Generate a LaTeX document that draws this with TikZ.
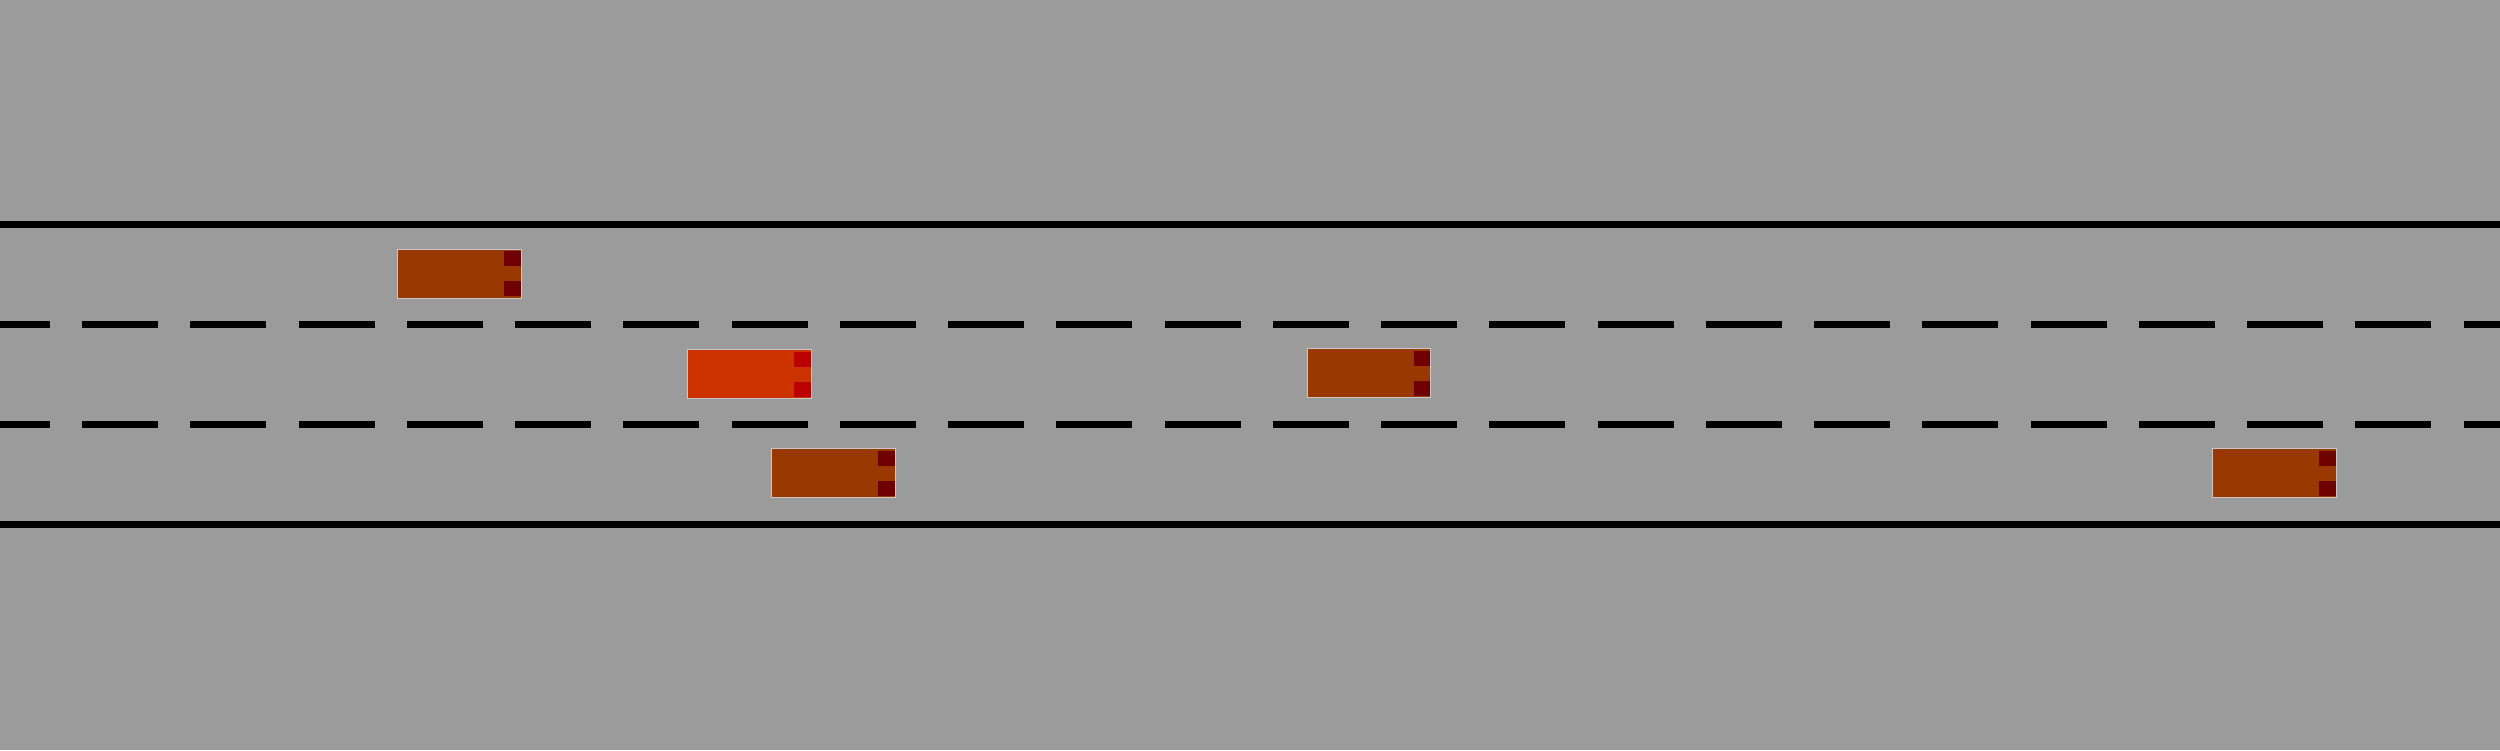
\documentclass[tikz,border=0pt]{standalone}
\usepackage{tikz}
\usepackage{xcolor}
\definecolor{asphalt}{HTML}{9B9B9B}
\definecolor{carbody}{HTML}{993800}
\definecolor{carlight}{HTML}{6E0000}
\definecolor{egobody}{HTML}{CC3300}
\definecolor{egolight}{HTML}{BB0000}
\definecolor{caredge}{HTML}{C8C8C8}
\tikzset{
  roadline/.style={line width=0.07cm, black},
  laneline/.style={roadline, dash pattern=on 0.76cm off 0.3224cm},
}
% car: centre x, centre y, body colour, light colour
\newcommand{\roadcar}[4]{%
  \fill[#3] (#1-0.617,#2-0.245) rectangle (#1+0.617,#2+0.245);
  \fill[#4] (#1+0.447,#2+0.225) rectangle (#1+0.617,#2+0.075);
  \fill[#4] (#1+0.447,#2-0.225) rectangle (#1+0.617,#2-0.075);
  \draw[caredge, line width=0.01cm] (#1-0.617,#2-0.245) rectangle (#1+0.617,#2+0.245);
}

\begin{document}
\begin{tikzpicture}
            \useasboundingbox (0,0) rectangle (25,7.5);
            \clip (0,0) rectangle (25,7.5);
            \fill[asphalt] (0,0) rectangle (25,7.5);
            \draw[roadline] (0,5.255) -- (25,5.255);
            \draw[roadline] (0,2.255) -- (25,2.255);
            \draw[laneline] (-0.26,4.255) -- (25.5,4.255);
            \draw[laneline] (-0.26,3.255) -- (25.5,3.255);
            \roadcar{4.595}{4.765}{carbody}{carlight}
            \roadcar{7.495}{3.760}{egobody}{egolight}
            \roadcar{13.692}{3.770}{carbody}{carlight}
            \roadcar{8.336}{2.770}{carbody}{carlight}
            \roadcar{22.745}{2.770}{carbody}{carlight}
        \end{tikzpicture}
\end{document}
